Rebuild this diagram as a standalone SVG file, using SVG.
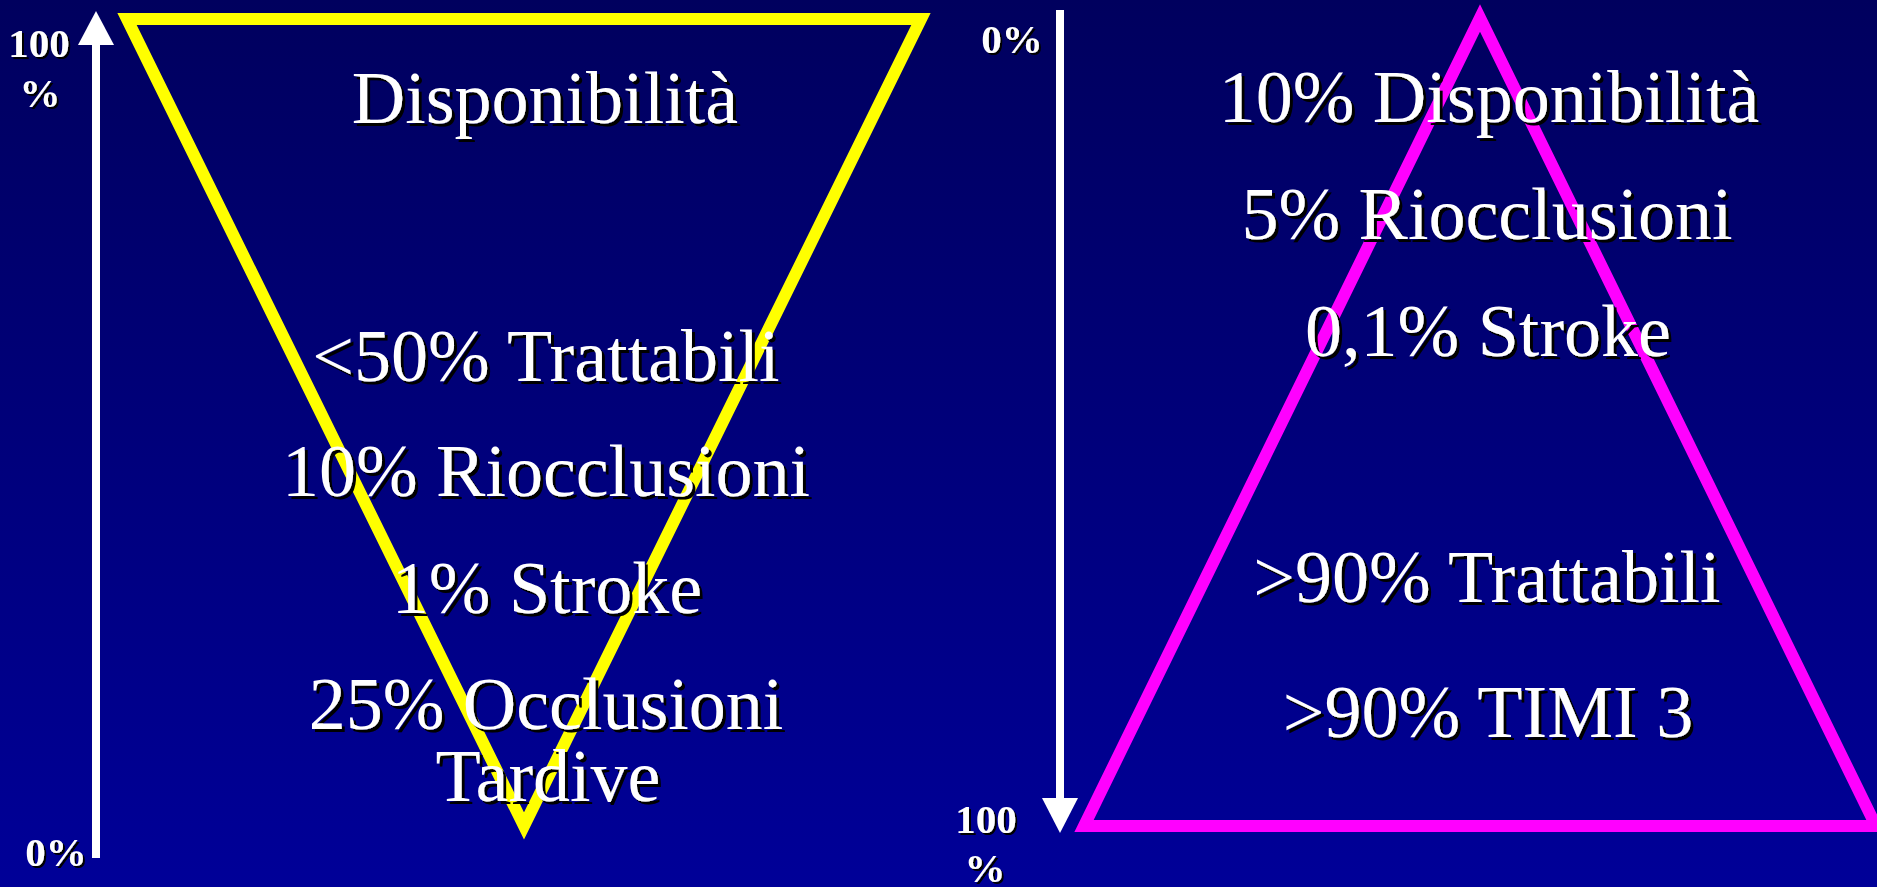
<svg xmlns="http://www.w3.org/2000/svg" width="1877" height="887" viewBox="0 0 1877 887">
<defs>
<linearGradient id="bg" x1="0" y1="0" x2="0" y2="1">
<stop offset="0" stop-color="#00005e"/>
<stop offset="1" stop-color="#000098"/>
</linearGradient>
<filter id="sh" x="-10%" y="-30%" width="120%" height="160%">
<feOffset in="SourceAlpha" dx="3" dy="3" result="o"/>
<feFlood flood-color="#000000"/>
<feComposite in2="o" operator="in" result="s"/>
<feMerge><feMergeNode in="s"/><feMergeNode in="SourceGraphic"/></feMerge>
</filter>
<filter id="shs" x="-20%" y="-30%" width="140%" height="160%">
<feOffset in="SourceAlpha" dx="2" dy="2" result="o"/>
<feFlood flood-color="#000000"/>
<feComposite in2="o" operator="in" result="s"/>
<feMerge><feMergeNode in="s"/><feMergeNode in="SourceGraphic"/></feMerge>
</filter>
</defs>
<style>
.big{font-family:"Liberation Serif","Times New Roman",serif;font-size:74px;fill:#ffffff;text-anchor:middle;filter:url(#sh)}
.sm{font-family:"Liberation Serif","Times New Roman",serif;font-size:41px;font-weight:bold;fill:#ffffff;text-anchor:middle;filter:url(#shs)}
.axis{stroke:#ffffff;stroke-width:8;fill:none}
.head{fill:#ffffff}
.tri{fill:none;stroke-width:12;stroke-linejoin:miter;stroke-miterlimit:10}
</style>
<rect x="0" y="0" width="1877" height="887" fill="url(#bg)"/>

<g id="triangle-left">
<polygon class="tri" stroke="#ffff00" points="127,19 921,19 524,826"/>
</g>
<g id="triangle-right">
<polygon class="tri" stroke="#ff00ff" points="1480,18 1084,826 1876,826"/>
</g>

<g id="connectors">
<line class="axis" x1="96" y1="44" x2="96" y2="858"/>
<polygon class="head" points="96,11 78,45 114,45"/>
<line class="axis" x1="1060" y1="10" x2="1060" y2="799"/>
<polygon class="head" points="1042,798 1078,798 1060,833"/>
</g>

<g id="axis-left-labels">
<text class="sm" x="39" y="57">100</text>
<text class="sm" x="40" y="107">%</text>
<text class="sm" x="56" y="866">0%</text>
</g>
<g id="axis-right-labels">
<text class="sm" x="1012" y="53">0%</text>
<text class="sm" x="986" y="833">100</text>
<text class="sm" x="985" y="882">%</text>
</g>

<g id="left-texts">
<text class="big" x="545" y="123">Disponibilità</text>
<text class="big" x="546" y="381">&lt;50% Trattabili</text>
<text class="big" x="546" y="496">10% Riocclusioni</text>
<text class="big" x="547" y="613">1% Stroke</text>
<text class="big" x="546" y="729">25% Occlusioni</text>
<text class="big" x="548" y="801">Tardive</text>
</g>
<g id="right-texts">
<text class="big" x="1489" y="122">10% Disponibilità</text>
<text class="big" x="1487" y="239">5% Riocclusioni</text>
<text class="big" x="1488" y="356">0,1% Stroke</text>
<text class="big" x="1487" y="602">&gt;90% Trattabili</text>
<text class="big" x="1488" y="737">&gt;90% TIMI 3</text>
</g>
</svg>
